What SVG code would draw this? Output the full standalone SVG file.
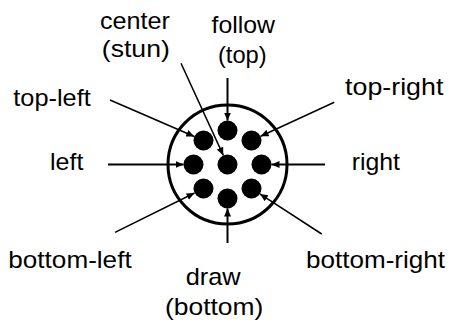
<svg xmlns="http://www.w3.org/2000/svg" width="452" height="325" viewBox="0 0 452 325">
<style>
  .lbl { font-family: "Liberation Sans", Arial, sans-serif; font-size: 24px; fill: #000; text-anchor: middle; }
  .pin { fill: #000; }
  .ring { fill: #fff; stroke: #000; stroke-width: 3; }
  .arr { stroke: #000; stroke-width: 1.5; fill: none; marker-end: url(#ah); }
  .ax { stroke-width: 2; }
</style>
<defs>
  <marker id="ah" markerUnits="userSpaceOnUse" markerWidth="9" markerHeight="8" refX="8" refY="3.5" orient="auto">
    <path d="M0,0 L8,3.5 L0,7 z" fill="#000"/>
  </marker>
</defs>
<rect width="452" height="325" fill="#fff"/>
<g id="plug">
  <circle class="ring" cx="227.5" cy="164.5" r="59.5"/>
  <circle class="pin" cx="227.5" cy="164.5" r="10"/>
  <circle class="pin" cx="227.5" cy="130.5" r="10"/>
  <circle class="pin" cx="227.5" cy="198.5" r="10"/>
  <circle class="pin" cx="193.5" cy="164.5" r="10"/>
  <circle class="pin" cx="261.5" cy="164.5" r="10"/>
  <circle class="pin" cx="203.5" cy="140.5" r="10"/>
  <circle class="pin" cx="251.5" cy="140.5" r="10"/>
  <circle class="pin" cx="203.5" cy="188.5" r="10"/>
  <circle class="pin" cx="251.5" cy="188.5" r="10"/>
</g>
<g id="connectors">
  <line class="arr ax" x1="227.5" y1="78" x2="227.5" y2="120.5"/>
  <line class="arr ax" x1="227.5" y1="243" x2="227.5" y2="208.5"/>
  <line class="arr ax" x1="108" y1="164.5" x2="183.5" y2="164.5"/>
  <line class="arr ax" x1="325" y1="164.5" x2="271.5" y2="164.5"/>
  <line class="arr" x1="110" y1="100" x2="194.3" y2="136.5"/>
  <line class="arr" x1="334.3" y1="102.3" x2="260.6" y2="136.3"/>
  <line class="arr" x1="181" y1="63.3" x2="223.3" y2="155.4"/>
  <line class="arr" x1="115" y1="232.3" x2="194.5" y2="193"/>
  <line class="arr" x1="321.7" y1="234" x2="259.9" y2="193.9"/>
</g>
<g id="label-center"><text class="lbl" x="135" y="28.5" textLength="70" lengthAdjust="spacingAndGlyphs">center</text><text class="lbl" x="135.8" y="57" textLength="68" lengthAdjust="spacingAndGlyphs">(stun)</text></g>
<g id="label-follow"><text class="lbl" x="243.3" y="33.3" textLength="63.5" lengthAdjust="spacingAndGlyphs">follow</text><text class="lbl" x="242.3" y="62.5" textLength="48.7" lengthAdjust="spacingAndGlyphs">(top)</text></g>
<g id="label-top-left"><text class="lbl" x="52" y="106" textLength="77.4" lengthAdjust="spacingAndGlyphs">top-left</text></g>
<g id="label-top-right"><text class="lbl" x="394.2" y="95" textLength="98.3" lengthAdjust="spacingAndGlyphs">top-right</text></g>
<g id="label-left"><text class="lbl" x="66.7" y="170" textLength="33.3" lengthAdjust="spacingAndGlyphs">left</text></g>
<g id="label-right"><text class="lbl" x="375.8" y="170" textLength="48.3" lengthAdjust="spacingAndGlyphs">right</text></g>
<g id="label-bottom-left"><text class="lbl" x="70" y="268.3" textLength="123.3" lengthAdjust="spacingAndGlyphs">bottom-left</text></g>
<g id="label-bottom-right"><text class="lbl" x="375.5" y="268.3" textLength="139" lengthAdjust="spacingAndGlyphs">bottom-right</text></g>
<g id="label-draw"><text class="lbl" x="213.2" y="285" textLength="55" lengthAdjust="spacingAndGlyphs">draw</text><text class="lbl" x="214.2" y="315" textLength="98.3" lengthAdjust="spacingAndGlyphs">(bottom)</text></g>
</svg>
